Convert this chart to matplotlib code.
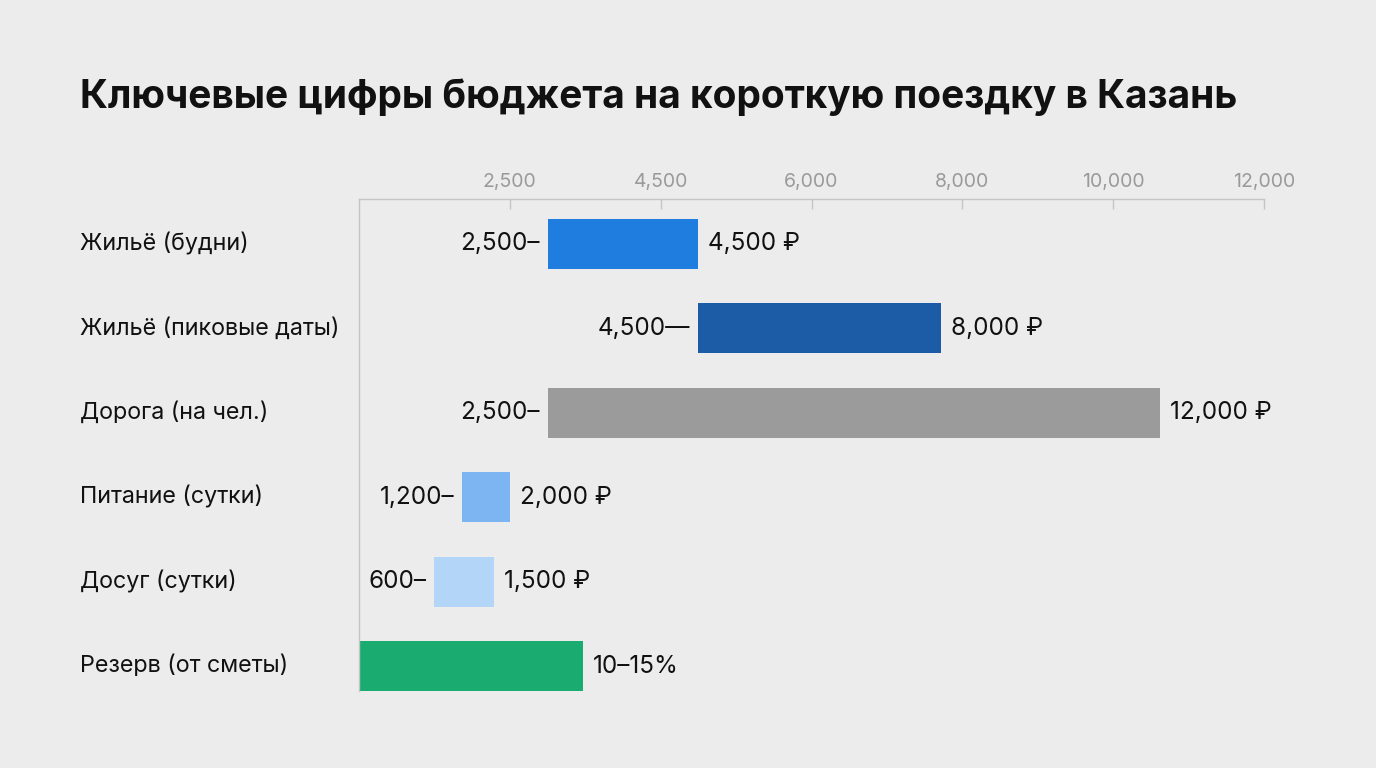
import matplotlib
matplotlib.use("Agg")
import matplotlib.pyplot as plt

plt.rcParams['font.family'] = ['Inter', 'DejaVu Sans']

BG = '#ECECEC'
INK = '#111111'
AXIS_GRAY = '#C4C4C4'
TICK_TEXT = '#9A9A9A'

title = "Ключевые цифры бюджета на короткую поездку в Казань"

categories = [
    "Жильё (будни)",
    "Жильё (пиковые даты)",
    "Дорога (на чел.)",
    "Питание (сутки)",
    "Досуг (сутки)",
    "Резерв (от сметы)",
]
# bar extents
low = [2500, 4500, 2500, 1370, 1000, 0]
high = [4500, 7720, 10620, 2000, 1790, 2970]
low_labels = ["2,500–", "4,500—", "2,500–", "1,200–", "600–", ""]
high_labels = ["4,500 ₽", "8,000 ₽", "12,000 ₽", "2,000 ₽", "1,500 ₽", "10–15%"]
colors = ['#1F7DDF', '#1C5CA6', '#9B9B9B', '#7DB5F2', '#B3D5F7', '#1AAB70']

tick_pos = [2000, 4000, 6000, 8000, 10000, 12000]
tick_labels = ["2,500", "4,500", "6,000", "8,000", "10,000", "12,000"]

fig = plt.figure(figsize=(13.76, 7.68), dpi=100)
fig.patch.set_facecolor(BG)

W, H = 1376, 768
ax = fig.add_axes([359 / W, 1 - 691 / H, (1264 - 359) / W, (691 - 199) / H])
ax.set_facecolor(BG)

ys = list(range(len(categories)))
ax.barh(ys, [h - l for l, h in zip(low, high)], left=low, height=0.59,
        color=colors, edgecolor='none')

for y, l, h, lt, ht in zip(ys, low, high, low_labels, high_labels):
    if lt:
        ax.annotate(lt, (l, y), xytext=(-6, 0), textcoords='offset points',
                    ha='right', va='center', fontsize=17.5, color=INK)
    ax.annotate(ht, (h, y), xytext=(7, 0), textcoords='offset points',
                ha='left', va='center', fontsize=17.5, color=INK,
                annotation_clip=False)

for y, c in zip(ys, categories):
    fig.text(80 / W, 1 - (244 + y * 84.4) / H, c, ha='left', va='center',
             fontsize=16.8, color=INK)

ax.set_xlim(0, 12000)
ax.set_ylim(5.296, -0.533)
ax.set_yticks([])
ax.xaxis.tick_top()
ax.set_xticks(tick_pos)
ax.set_xticklabels(tick_labels)
ax.tick_params(axis='x', direction='in', length=7, width=1, color=AXIS_GRAY,
               labelcolor=TICK_TEXT, labelsize=14, pad=6)

for side in ['right', 'bottom']:
    ax.spines[side].set_visible(False)
for side in ['top', 'left']:
    ax.spines[side].set_color(AXIS_GRAY)
    ax.spines[side].set_linewidth(1)

fig.text(80 / W, 1 - 97 / H, title, ha='left', va='center',
         fontsize=28, fontweight='bold', color=INK)

fig.savefig("out.png", dpi=100, facecolor=BG)
